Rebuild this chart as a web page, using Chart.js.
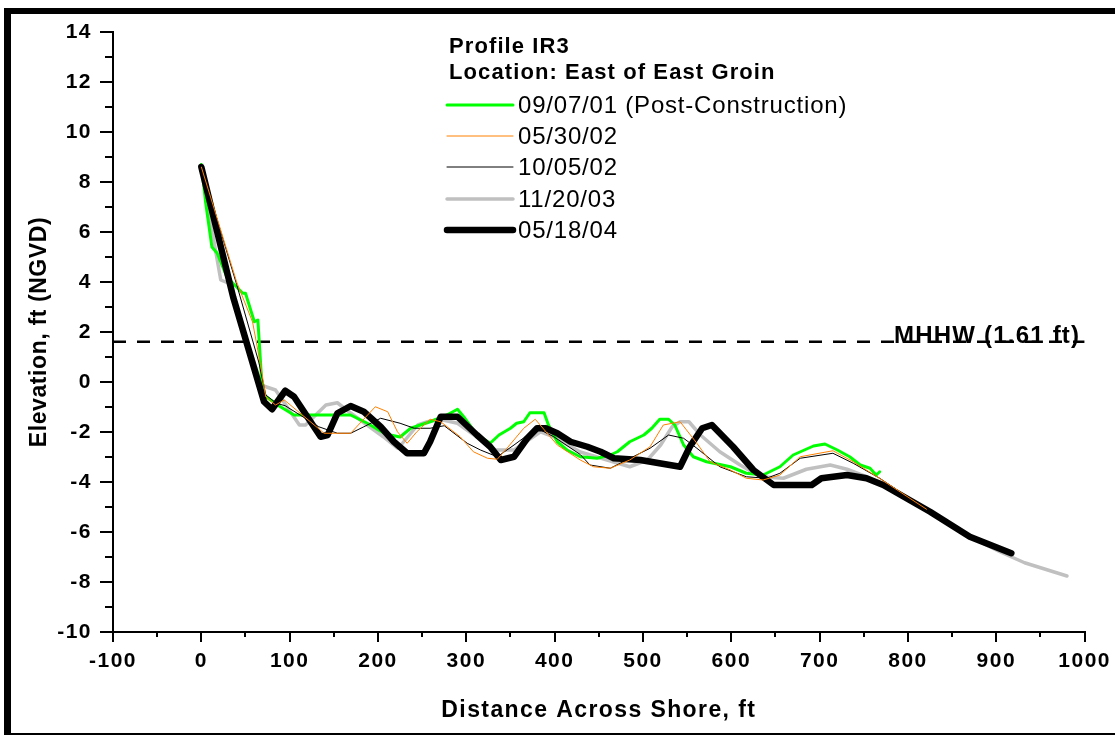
<!DOCTYPE html>
<html>
<head>
<meta charset="utf-8">
<title>Profile IR3</title>
<script src="https://cdn.jsdelivr.net/npm/chart.js@4/dist/chart.umd.min.js"></script>
<style>
  html, body { margin: 0; padding: 0; background: #fff; }
  canvas { display: block; }
</style>
</head>
<body>
<canvas id="profile" width="1115" height="735"></canvas>
<script>
// ---- Survey data: distance across shore (ft) and elevation (ft NGVD) ----
const dist090701 = [0, 5, 12, 18, 30, 33, 47, 50, 60, 64, 69, 73, 90, 105, 169, 188, 207, 214, 225, 237, 259, 278, 290, 297, 312, 327, 337, 350, 357, 365, 372, 388, 393, 403, 414, 429, 448, 463, 471, 485, 501, 510, 519, 529, 536, 546, 557, 572, 599, 617, 636, 655, 670, 693, 706, 720, 734, 746, 757, 764, 768];
const elev090701 = [8.7, 7.15, 5.4, 5.15, 4.1, 4.05, 3.55, 3.55, 2.41, 2.48, -0.32, -0.59, -1.0, -1.32, -1.32, -1.65, -2.05, -2.12, -2.2, -1.85, -1.59, -1.32, -1.09, -1.39, -2.12, -2.45, -2.12, -1.85, -1.65, -1.59, -1.23, -1.23, -1.72, -2.39, -2.72, -2.99, -3.05, -2.92, -2.79, -2.39, -2.12, -1.85, -1.49, -1.49, -1.72, -2.52, -2.99, -3.19, -3.39, -3.65, -3.72, -3.39, -2.92, -2.56, -2.48, -2.72, -2.99, -3.32, -3.45, -3.72, -3.59];

const dist053002 = [0, 40, 58, 67, 73, 84, 94, 139, 169, 197, 211, 222, 233, 244, 259, 271, 293, 308, 324, 335, 346, 365, 378, 403, 429, 444, 463, 485, 508, 523, 542, 561, 576, 599, 617, 636, 655, 678, 715, 738, 765, 821];
const elev053002 = [8.6, 4.0, 2.4, 0.7, -0.6, -0.92, -0.72, -2.05, -2.05, -0.99, -1.19, -1.99, -2.45, -1.99, -1.49, -1.59, -2.19, -2.79, -3.05, -3.09, -2.65, -1.85, -1.49, -2.52, -3.12, -3.39, -3.45, -3.12, -2.59, -1.72, -1.59, -2.45, -3.19, -3.52, -3.85, -3.92, -3.72, -2.99, -2.75, -3.19, -3.79, -5.09];

const dist100502 = [0, 40, 65, 73, 85, 95, 133, 154, 169, 184, 203, 225, 241, 259, 275, 301, 316, 335, 354, 372, 384, 399, 429, 440, 463, 508, 529, 546, 561, 587, 617, 640, 655, 678, 715, 738, 768, 785];
const elev100502 = [8.6, 3.9, 0.8, -0.52, -0.85, -0.95, -1.79, -2.05, -2.05, -1.79, -1.45, -1.65, -1.85, -1.85, -1.75, -2.45, -2.72, -2.99, -2.52, -2.05, -1.92, -2.19, -2.9, -3.32, -3.45, -2.65, -2.12, -2.25, -2.65, -3.39, -3.79, -3.85, -3.65, -3.05, -2.85, -3.25, -3.85, -4.25];

const dist112003 = [0, 16, 22, 31, 50, 68, 73, 84, 111, 118, 141, 154, 167, 206, 222, 226, 245, 256, 271, 290, 312, 333, 354, 384, 399, 429, 485, 505, 520, 533, 542, 552, 565, 587, 610, 633, 659, 685, 712, 731, 753, 772, 825, 870, 904, 932, 980];
const elev112003 = [8.6, 5.28, 4.08, 3.95, 1.8, -0.1, -0.19, -0.32, -1.72, -1.72, -0.92, -0.83, -1.19, -2.19, -2.65, -2.52, -1.72, -1.59, -1.5, -1.65, -2.2, -2.72, -2.72, -1.99, -2.19, -2.8, -3.39, -3.12, -2.52, -1.79, -1.59, -1.59, -2.12, -2.79, -3.32, -3.79, -3.85, -3.49, -3.32, -3.49, -3.79, -4.12, -5.19, -6.19, -6.79, -7.23, -7.76];

const dist051804 = [0, 36, 71, 80, 95, 105, 135, 143, 154, 169, 184, 203, 218, 233, 252, 259, 271, 290, 312, 327, 339, 354, 369, 380, 390, 403, 418, 437, 452, 467, 497, 542, 553, 567, 578, 602, 625, 648, 691, 702, 731, 753, 772, 825, 870, 917];
const elev051804 = [8.6, 3.4, -0.79, -1.09, -0.35, -0.59, -2.19, -2.12, -1.25, -0.96, -1.19, -1.79, -2.39, -2.85, -2.85, -2.39, -1.39, -1.39, -2.12, -2.59, -3.12, -2.99, -2.25, -1.85, -1.85, -2.05, -2.39, -2.59, -2.79, -3.05, -3.12, -3.39, -2.59, -1.85, -1.72, -2.59, -3.52, -4.12, -4.12, -3.85, -3.72, -3.85, -4.12, -5.19, -6.19, -6.85];

// Mean higher high water reference level
const mhhwLevel = 1.61;

// Axis tick values
const xTickValues = [-100, 0, 100, 200, 300, 400, 500, 600, 700, 800, 900, 1000];
const yTickValues = [-10, -8, -6, -4, -2, 0, 2, 4, 6, 8, 10, 12, 14];
const xMinorTicks = [-50, 50, 150, 250, 350, 450, 550, 650, 750, 850, 950];
const yMinorTicks = [-9, -7, -5, -3, -1, 1, 3, 5, 7, 9, 11, 13];

const FONT = '"Liberation Sans", Arial, Helvetica, sans-serif';

const toPoints = (xs, ys) => xs.map((x, i) => ({ x: x, y: ys[i] }));

// Line styling per survey (order: lower number is drawn on top)
const surveys = [
  { label: '09/07/01 (Post-Construction)', dist: dist090701, elev: elev090701, color: '#00ff00', width: 3, order: 4 },
  { label: '05/30/02', dist: dist053002, elev: elev053002, color: '#ff8000', width: 1, order: 1 },
  { label: '10/05/02', dist: dist100502, elev: elev100502, color: '#000000', width: 1, order: 2 },
  { label: '11/20/03', dist: dist112003, elev: elev112003, color: '#c0c0c0', width: 3.5, order: 5 },
  { label: '05/18/04', dist: dist051804, elev: elev051804, color: '#000000', width: 6.5, order: 3 }
];

const datasets = surveys.map(s => ({
  label: s.label,
  data: toPoints(s.dist, s.elev),
  borderColor: s.color,
  backgroundColor: s.color,
  borderWidth: s.width,
  pointRadius: 0,
  tension: 0,
  fill: false,
  borderJoinStyle: 'round',
  borderCapStyle: 'round',
  order: s.order,
  inLegend: true
}));

datasets.push({
  label: 'MHHW',
  data: [{ x: xTickValues[0], y: mhhwLevel }, { x: xTickValues[xTickValues.length - 1], y: mhhwLevel }],
  borderColor: '#000000',
  borderWidth: 2.5,
  borderDash: [13, 11],
  pointRadius: 0,
  fill: false,
  order: 6,
  inLegend: false
});

// Per-axis letter spacing for the axis titles
const titleSpacing = { x: '1.4px', y: '0.6px' };

const decorations = {
  id: 'decorations',
  afterLayout(chart) {
    Object.keys(titleSpacing).forEach(id => {
      const scale = chart.scales[id];
      if (!scale || scale._spacedTitle) return;
      const drawTitle = scale.drawTitle;
      scale.drawTitle = function () {
        const ctx = this.ctx;
        ctx.save();
        ctx.letterSpacing = titleSpacing[id];
        drawTitle.apply(this, arguments);
        ctx.restore();
      };
      scale._spacedTitle = true;
    });
  },
  beforeDraw(chart) {
    const ctx = chart.ctx;
    ctx.save();
    ctx.fillStyle = '#ffffff';
    ctx.fillRect(0, 0, chart.width, chart.height);
    ctx.restore();
    ctx.letterSpacing = '1.5px';
  },
  afterDraw(chart) {
    const ctx = chart.ctx;
    const xs = chart.scales.x, ys = chart.scales.y;
    ctx.save();

    // minor tick marks
    ctx.strokeStyle = '#000';
    ctx.lineWidth = 2;
    ctx.beginPath();
    xMinorTicks.forEach(v => {
      const p = Math.round(xs.getPixelForValue(v));
      ctx.moveTo(p, xs.top);
      ctx.lineTo(p, xs.top + 5);
    });
    yMinorTicks.forEach(v => {
      const p = Math.round(ys.getPixelForValue(v));
      ctx.moveTo(ys.right - 8, p);
      ctx.lineTo(ys.right, p);
    });
    ctx.stroke();

    // MHHW label sitting on the dashed line
    ctx.fillStyle = '#000';
    ctx.font = 'bold 24px ' + FONT;
    ctx.letterSpacing = '1.2px';
    ctx.textAlign = 'right';
    ctx.textBaseline = 'alphabetic';
    ctx.fillText('MHHW (1.61 ft)', xs.getPixelForValue(995), ys.getPixelForValue(mhhwLevel) + 1);

    // legend block
    ctx.textAlign = 'left';
    ctx.textBaseline = 'middle';
    ctx.font = 'bold 22px ' + FONT;
    ctx.letterSpacing = '1.1px';
    ctx.fillText('Profile IR3', 449, 47);
    ctx.fillText('Location: East of East Groin', 449, 73);
    ctx.font = '24px ' + FONT;
    ctx.letterSpacing = '0.8px';
    chart.data.datasets.filter(d => d.inLegend).forEach((ds, i) => {
      const y = Math.round(105 + i * 31.2);
      ctx.strokeStyle = ds.borderColor;
      ctx.lineWidth = ds.borderWidth;
      ctx.lineCap = 'round';
      ctx.beginPath();
      ctx.moveTo(447, y);
      ctx.lineTo(513, y);
      ctx.stroke();
      ctx.fillText(ds.label, 518, y + 1);
    });

    // outer frame
    ctx.fillStyle = '#000';
    ctx.fillRect(4, 8, chart.width - 4, 6);
    ctx.fillRect(4, 8, 7, chart.height - 8);
    ctx.fillRect(4, chart.height - 2, chart.width - 4, 2);
    ctx.restore();
  }
};

const tickFont = { family: FONT, size: 21, weight: 'bold' };

new Chart(document.getElementById('profile'), {
  type: 'line',
  data: { datasets: datasets },
  options: {
    responsive: false,
    devicePixelRatio: 1,
    animation: false,
    events: [],
    layout: { padding: { left: 0, top: 32, right: 30, bottom: 0 } },
    plugins: {
      legend: { display: false },
      tooltip: { enabled: false },
      title: { display: false }
    },
    scales: {
      x: {
        type: 'linear',
        min: xTickValues[0],
        max: xTickValues[xTickValues.length - 1],
        afterBuildTicks: s => { s.ticks = xTickValues.map(v => ({ value: v })); },
        afterFit: s => { s.height = 103; },
        grid: { drawOnChartArea: false, drawTicks: true, tickLength: 10, lineWidth: 2, color: '#000' },
        border: { display: true, color: '#000', width: 2 },
        ticks: { color: '#000', font: tickFont, padding: 7, autoSkip: false, maxRotation: 0, callback: v => String(v) },
        title: { display: true, text: 'Distance Across Shore, ft', color: '#000', font: { family: FONT, size: 23, weight: 'bold' }, padding: { top: 0, bottom: 11 } }
      },
      y: {
        type: 'linear',
        min: yTickValues[0],
        max: yTickValues[yTickValues.length - 1],
        afterBuildTicks: s => { s.ticks = yTickValues.map(v => ({ value: v })); },
        afterFit: s => { s.width = 113; },
        grid: { drawOnChartArea: false, drawTicks: true, tickLength: 13, lineWidth: 2, color: '#000' },
        border: { display: true, color: '#000', width: 2 },
        ticks: { color: '#000', font: tickFont, padding: 8, callback: v => String(v) },
        title: { display: true, text: 'Elevation, ft (NGVD)', color: '#000', font: { family: FONT, size: 23, weight: 'bold' }, padding: { top: 26, bottom: 0 } }
      }
    }
  },
  plugins: [decorations]
});
</script>
</body>
</html>
